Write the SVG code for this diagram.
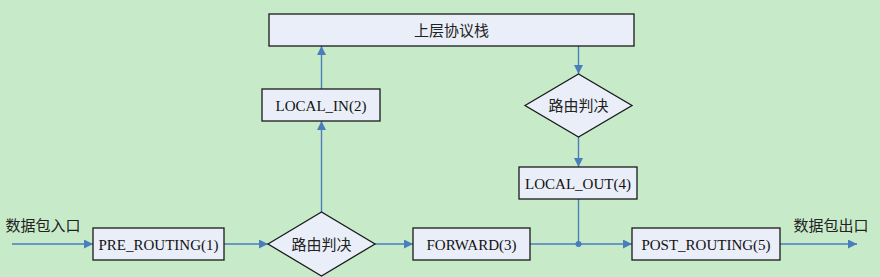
<svg xmlns="http://www.w3.org/2000/svg" width="880" height="277" viewBox="0 0 880 277">
<defs>
<style>
.box{fill:#e9eef8;stroke:#1a1a1a;stroke-width:1.3}
.t{font-family:"Liberation Serif","Noto Sans CJK SC",serif;font-size:15px;fill:#111;text-anchor:middle}
.c{font-family:"Liberation Serif","Noto Sans CJK SC",serif;font-size:15px;fill:#222;text-anchor:middle}
.ln{stroke:#4a7ebb;stroke-width:1.4;fill:none}
</style>
<marker id="ah" viewBox="0 0 10 10" refX="10" refY="5" markerWidth="9" markerHeight="9" markerUnits="userSpaceOnUse" orient="auto">
<path d="M0,0 L10,5 L0,10 z" fill="#4a7ebb"/>
</marker>
</defs>
<rect width="880" height="277" fill="#c7ebc9"/>
<g id="connectors">
<line class="ln" x1="12" y1="244" x2="93" y2="244" marker-end="url(#ah)"/>
<line class="ln" x1="224" y1="244" x2="268" y2="244" marker-end="url(#ah)"/>
<line class="ln" x1="375" y1="244" x2="413" y2="244" marker-end="url(#ah)"/>
<line class="ln" x1="321.5" y1="212" x2="321.5" y2="121" marker-end="url(#ah)"/>
<line class="ln" x1="321.5" y1="89" x2="321.5" y2="46" marker-end="url(#ah)"/>
<line class="ln" x1="578.5" y1="46" x2="578.5" y2="74" marker-end="url(#ah)"/>
<line class="ln" x1="578.5" y1="137" x2="578.5" y2="167" marker-end="url(#ah)"/>
<line class="ln" x1="578.5" y1="199" x2="578.5" y2="244"/>
<line class="ln" x1="530" y1="244" x2="632" y2="244" marker-end="url(#ah)"/>
<circle cx="578.5" cy="244" r="3" fill="#4a7ebb"/>
<line class="ln" x1="780" y1="244" x2="857" y2="244" marker-end="url(#ah)"/>
</g>
<g id="in-label"><text class="c" x="43" y="231">数据包入口</text></g>
<g id="out-label"><text class="c" x="831" y="231">数据包出口</text></g>
<g id="pre-routing"><rect class="box" x="93" y="228" width="131" height="32"/><text class="t" x="158.5" y="249.5">PRE_ROUTING(1)</text></g>
<g id="decision1"><polygon class="box" points="268,244 321.5,212 375,244 321.5,276"/><text class="c" x="321.5" y="249.5">路由判决</text></g>
<g id="forward"><rect class="box" x="413" y="228" width="117" height="32"/><text class="t" x="471.5" y="249.5">FORWARD(3)</text></g>
<g id="local-in"><rect class="box" x="262" y="89" width="118" height="32"/><text class="t" x="321" y="110.5">LOCAL_IN(2)</text></g>
<g id="upper-stack"><rect class="box" x="269" y="14" width="365" height="32"/><text class="c" x="451.5" y="35.5">上层协议栈</text></g>
<g id="decision2"><polygon class="box" points="525,105.5 578.5,74 632,105.5 578.5,137"/><text class="c" x="578.5" y="111">路由判决</text></g>
<g id="local-out"><rect class="box" x="519" y="167" width="118" height="32"/><text class="t" x="578" y="188.5">LOCAL_OUT(4)</text></g>
<g id="post-routing"><rect class="box" x="632" y="228" width="148" height="32"/><text class="t" x="706" y="249.5">POST_ROUTING(5)</text></g>
</svg>
